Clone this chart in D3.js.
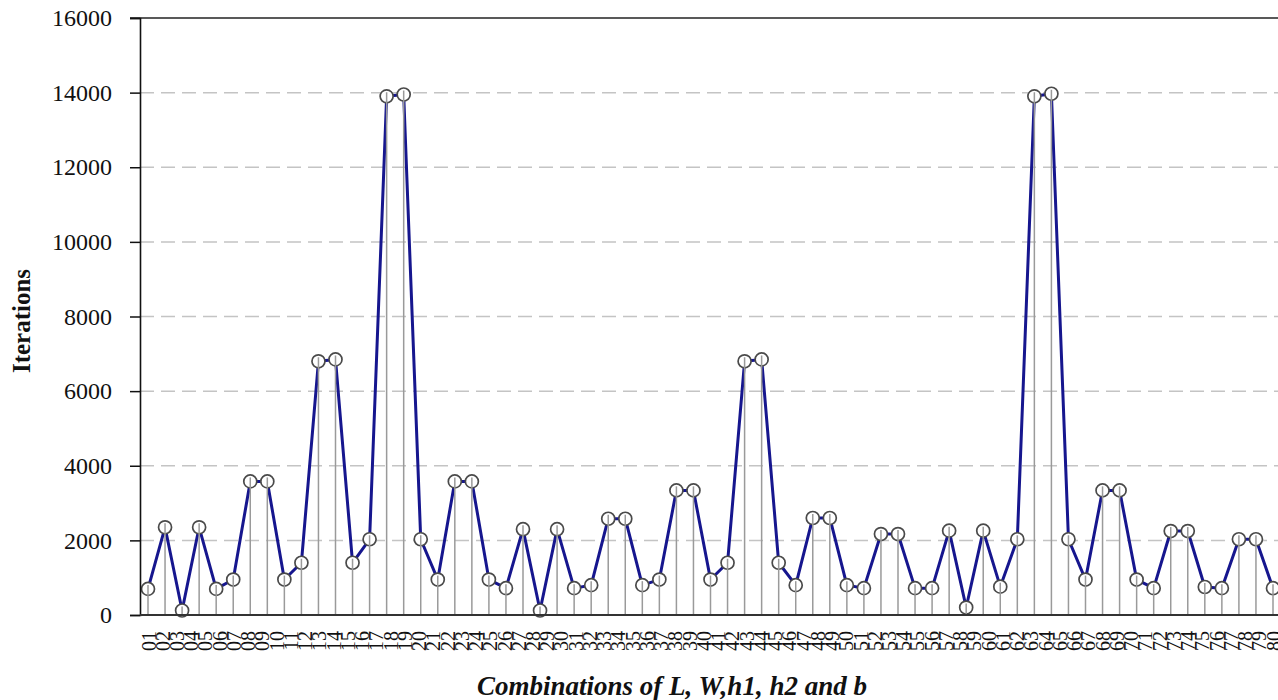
<!DOCTYPE html>
<html>
<head>
<meta charset="utf-8">
<script src="https://cdn.jsdelivr.net/npm/d3@7"></script>
<style>
  html, body { margin: 0; padding: 0; background: #fff; }
  svg { display: block; }
</style>
</head>
<body>
<svg id="chart" width="1278" height="700"></svg>
<script>
// ---- data ----
const iterations = [
  700, 2350, 120, 2350, 700, 950, 3580, 3580, 950, 1400,
  6800, 6850, 1400, 2030, 13900, 13950, 2030, 950, 3580, 3580,
  950, 720, 2300, 120, 2300, 720, 800, 2580, 2580, 800,
  950, 3340, 3340, 950, 1400, 6800, 6850, 1400, 800, 2600,
  2600, 800, 720, 2170, 2170, 720, 720, 2260, 200, 2260,
  760, 2030, 13900, 13970, 2030, 950, 3340, 3340, 950, 720,
  2250, 2250, 750, 720, 2030, 2030, 720
];
const pointIds = iterations.map((_, i) => i + 1);
const categoryLabels = d3.range(1, 81).map(i => String(i).padStart(2, "0"));
const yTicks = [0, 2000, 4000, 6000, 8000, 10000, 12000, 14000, 16000];
const xTitle = "Combinations of L, W,h1, h2 and b";
const yTitle = "Iterations";

// ---- layout ----
const svg = d3.select("#chart");
const plotLeft = 140, plotRight = 1278, plotTop = 18, plotBottom = 615;
const serif = "'Liberation Serif', 'Times New Roman', serif";

const y = d3.scaleLinear().domain([0, 16000]).range([plotBottom, plotTop]);
const xData = d3.scalePoint().domain(pointIds).range([148, 1273]);
const xLab = d3.scalePoint().domain(categoryLabels).range([148, 1273]);

// gridlines
svg.append("g")
  .selectAll("line")
  .data(yTicks.filter(t => t > 0 && t < 16000))
  .join("line")
  .attr("x1", plotLeft).attr("x2", plotRight)
  .attr("y1", d => y(d)).attr("y2", d => y(d))
  .attr("stroke", "#c4c4c4")
  .attr("stroke-width", 1.5)
  .attr("stroke-dasharray", "14,7");

// top frame line
svg.append("line")
  .attr("x1", 130).attr("x2", plotRight)
  .attr("y1", y(16000)).attr("y2", y(16000))
  .attr("stroke", "#222").attr("stroke-width", 1.5);

// series line
const line = d3.line().x((d, i) => xData(pointIds[i])).y(d => y(d));
svg.append("path")
  .datum(iterations)
  .attr("d", line)
  .attr("fill", "none")
  .attr("stroke", "#16168e")
  .attr("stroke-width", 3)
  .attr("stroke-linejoin", "round");

// markers
svg.append("g")
  .selectAll("circle")
  .data(iterations)
  .join("circle")
  .attr("cx", (d, i) => xData(pointIds[i]))
  .attr("cy", d => y(d))
  .attr("r", 6.5)
  .attr("fill", "#fff")
  .attr("stroke", "#4a4a4a")
  .attr("stroke-width", 1.7);

// stems drawn over markers
svg.append("g")
  .selectAll("line")
  .data(iterations)
  .join("line")
  .attr("x1", (d, i) => xData(pointIds[i]))
  .attr("x2", (d, i) => xData(pointIds[i]))
  .attr("y1", plotBottom)
  .attr("y2", d => y(d) - 4)
  .attr("stroke", "#9a9a9a")
  .attr("stroke-width", 1.5);

// y axis
const yAxis = d3.axisLeft(y).tickValues(yTicks).tickSize(10).tickPadding(18).tickFormat(d3.format("d"));
const gy = svg.append("g").attr("transform", `translate(${plotLeft},0)`).call(yAxis);
gy.select(".domain").attr("stroke", "#111").attr("stroke-width", 1.6);
gy.selectAll(".tick line").attr("stroke", "#111").attr("stroke-width", 1.5);
gy.selectAll(".tick text")
  .attr("font-family", serif)
  .attr("font-size", 24)
  .attr("fill", "#111");

// x axis baseline
svg.append("line")
  .attr("x1", plotLeft).attr("x2", plotRight)
  .attr("y1", plotBottom).attr("y2", plotBottom)
  .attr("stroke", "#333").attr("stroke-width", 2);

// x axis labels
const xAxis = d3.axisBottom(xLab).tickSize(0).tickPadding(0);
const gx = svg.append("g").attr("transform", `translate(0,${plotBottom})`).call(xAxis);
gx.select(".domain").remove();
gx.selectAll(".tick text")
  .attr("font-family", serif)
  .attr("font-size", 20)
  .attr("fill", "#111")
  .attr("text-anchor", "end")
  .attr("dy", "0.35em")
  .attr("transform", "translate(0,16) rotate(-90)")
  .attr("x", 0).attr("y", 0);

// axis titles
svg.append("text")
  .attr("x", 672).attr("y", 695)
  .attr("text-anchor", "middle")
  .attr("font-family", serif)
  .attr("font-size", 27)
  .attr("font-weight", "bold")
  .attr("font-style", "italic")
  .attr("fill", "#111")
  .text(xTitle);

svg.append("text")
  .attr("transform", "translate(30,321) rotate(-90)")
  .attr("text-anchor", "middle")
  .attr("font-family", serif)
  .attr("font-size", 25)
  .attr("font-weight", "bold")
  .attr("fill", "#111")
  .text(yTitle);
</script>
</body>
</html>
